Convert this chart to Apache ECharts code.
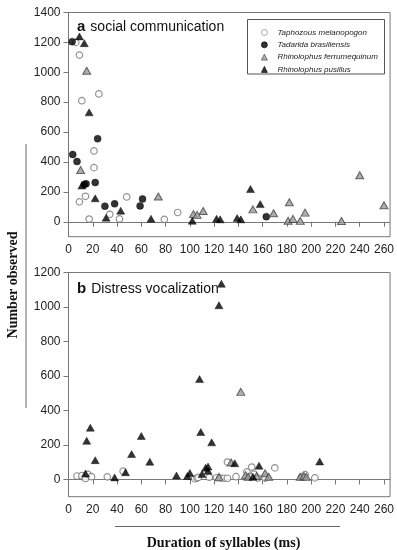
<!DOCTYPE html>
<html>
<head>
<meta charset="utf-8">
<script src="https://cdn.jsdelivr.net/npm/echarts@6/dist/echarts.min.js"></script>
<style>
  html, body { margin: 0; padding: 0; background: #fff; }
  #chart { width: 397px; height: 550px; }
</style>
</head>
<body>
<div id="chart"></div>
<script>
// Axis ticks
const xTicks = [0, 20, 40, 60, 80, 100, 120, 140, 160, 180, 200, 220, 240, 260];
const yTicksSocial = [0, 200, 400, 600, 800, 1000, 1200, 1400];
const yTicksDistress = [0, 200, 400, 600, 800, 1000, 1200];

const speciesNames = [
  'Taphozous melanopogon',
  'Tadarida brasiliensis',
  'Rhinolophus ferrumequinum',
  'Rhinolophus pusillus'
];

// (a) social communication: [duration (ms), number observed]
const socialTaphozous = [
  [6, 1200], [9, 1115], [11, 810], [25, 855], [21, 474], [21, 362], [9, 133],
  [14, 170], [17, 18], [34, 50], [42, 19], [48, 166], [79, 16], [90, 62]
];
const socialTadarida = [
  [3, 1205], [3.5, 450], [7, 403], [24, 556], [22, 262], [13, 250], [14.5, 254],
  [30, 104], [38, 120], [59, 106], [61, 153], [163, 34]
];
const socialFerrum = [
  [15, 1010], [10, 346], [74, 169], [103, 51], [106, 46], [111, 72], [152, 83],
  [169, 57], [182, 131], [181, 7], [185, 19], [191, 6], [195, 61], [225, 5],
  [240, 311], [260, 110]
];
const socialPusillus = [
  [9, 1240], [13, 1195], [17, 732], [22, 157], [11, 242], [31, 27], [43, 74],
  [68, 20], [102, 7], [122, 20], [125, 16], [139, 25], [142, 16], [150, 219],
  [158, 118]
];

// (b) distress vocalization
const distressTaphozous = [
  [7, 20], [11, 22], [14, 6], [16, 29], [19, 16], [32, 15], [45, 48], [104, 4],
  [106, 8], [107, 12], [116, 13], [122, 10], [125, 8], [128, 7], [131, 7],
  [131, 101], [138, 16], [147, 44], [151, 72], [153, 31], [150, 15], [156, 8],
  [162, 8], [170, 67], [195, 28], [192, 14], [203, 9]
];
const distressFerrum = [
  [142, 508], [134, 98], [124, 15], [146, 25], [148, 16], [155, 20], [162, 36],
  [165, 16], [191, 15], [194, 20], [196, 15]
];
const distressPusillus = [
  [18, 300], [15, 224], [22, 112], [14, 35], [38, 12], [47, 42], [52, 147],
  [60, 252], [67, 103], [89, 23], [98, 20], [100, 38], [108, 582], [109, 275],
  [118, 215], [110, 31], [113, 68], [115, 75], [115, 50], [124, 1010],
  [126, 1135], [137, 94], [157, 80], [152, 15], [207, 104]
];

const frameColor = '#777';
const labelFont = { color: '#222', fontSize: 12, fontFamily: 'Liberation Sans, Arial, sans-serif' };
const plainNumber = v => String(v);

const styles = [
  { symbol: 'circle', symbolSize: 6.5, itemStyle: { color: '#fff', borderColor: '#777', borderWidth: 1.2 } },
  { symbol: 'circle', symbolSize: 7, itemStyle: { color: '#000', borderColor: '#000', borderWidth: 0.5 } },
  { symbol: 'triangle', symbolSize: [8, 7], itemStyle: { color: '#9a9a9a', borderColor: '#444', borderWidth: 1 } },
  { symbol: 'triangle', symbolSize: [8, 7], itemStyle: { color: '#000', borderColor: '#000', borderWidth: 0.5 } }
];

function scatter(idx, data, panel) {
  return Object.assign({
    type: 'scatter',
    name: speciesNames[idx],
    data: data,
    xAxisIndex: panel,
    yAxisIndex: panel,
    emphasis: { disabled: true }
  }, styles[idx]);
}

function xAxis(gridIndex) {
  return {
    type: 'value', gridIndex: gridIndex, min: 0, max: 265,
    axisLine: { show: true, lineStyle: { color: frameColor, width: 1 } },
    axisTick: { show: true, length: 5, customValues: xTicks, lineStyle: { color: frameColor } },
    axisLabel: Object.assign({ margin: 7, customValues: xTicks, formatter: plainNumber }, labelFont),
    splitLine: { show: false }
  };
}
function yAxis(gridIndex, max, ticks) {
  return {
    type: 'value', gridIndex: gridIndex, min: -100, max: max,
    axisLine: { show: true, lineStyle: { color: frameColor, width: 1 } },
    axisTick: { show: true, length: 5, customValues: ticks, lineStyle: { color: frameColor } },
    axisLabel: Object.assign({ margin: 8, customValues: ticks, formatter: plainNumber }, labelFont),
    splitLine: { show: false }
  };
}

const titleRich = {
  b: { fontSize: 15, fontWeight: 'bold', fontFamily: 'Liberation Sans, Arial', color: '#111' },
  n: { fontSize: 14, fontWeight: 'normal', fontFamily: 'Liberation Sans, Arial', color: '#111' }
};

const chart = echarts.init(document.getElementById('chart'), null, { renderer: 'canvas' });
chart.setOption({
  animation: false,
  backgroundColor: '#fff',
  grid: [
    { left: 68.5, right: 4.7, top: 12.5, height: 224.2, show: true, borderColor: frameColor, borderWidth: 1, backgroundColor: '#fff' },
    { left: 68.5, right: 4.7, top: 272.5, height: 224.2, show: true, borderColor: frameColor, borderWidth: 1, backgroundColor: '#fff' }
  ],
  xAxis: [xAxis(0), xAxis(1)],
  yAxis: [yAxis(0, 1400, yTicksSocial), yAxis(1, 1200, yTicksDistress)],
  title: [
    { text: '{b|a} {n|social communication}', left: 72, top: 13, textStyle: { fontWeight: 'normal', rich: titleRich } },
    { text: '{b|b} {n|Distress vocalization}', left: 72, top: 275, textStyle: { fontWeight: 'normal', rich: titleRich } }
  ],
  legend: {
    data: speciesNames,
    orient: 'vertical',
    left: 261, top: 28.5,
    padding: 0,
    itemWidth: 6, itemHeight: 6, itemGap: 4.3,
    selectedMode: false,
    itemStyle: { borderWidth: 0.8 },
    textStyle: { fontSize: 8, fontStyle: 'italic', color: '#222', fontFamily: 'Liberation Sans, Arial', padding: [0, 0, 0, 5] }
  },
  graphic: [
    { type: 'rect', shape: { x: 247.5, y: 19.5, width: 137, height: 54.5 }, style: { fill: null, stroke: '#555', lineWidth: 1 }, z: 10 },
    { type: 'line', shape: { x1: 26, y1: 144, x2: 26, y2: 408 }, style: { stroke: '#666', lineWidth: 1 } },
    { type: 'line', shape: { x1: 115, y1: 526.5, x2: 340, y2: 526.5 }, style: { stroke: '#666', lineWidth: 1 } },
    {
      type: 'text', x: 13, y: 285, rotation: Math.PI / 2,
      style: { text: 'Number observed', fontSize: 14, fontWeight: 'bold', fontFamily: 'Liberation Serif, Times New Roman, serif', fill: '#111', align: 'center', verticalAlign: 'middle' }
    },
    {
      type: 'text', x: 223.5, y: 543,
      style: { text: 'Duration of syllables (ms)', fontSize: 14, fontWeight: 'bold', fontFamily: 'Liberation Serif, Times New Roman, serif', fill: '#111', align: 'center', verticalAlign: 'middle' }
    }
  ],
  series: [
    scatter(0, socialTaphozous, 0),
    scatter(1, socialTadarida, 0),
    scatter(2, socialFerrum, 0),
    scatter(3, socialPusillus, 0),
    scatter(0, distressTaphozous, 1),
    scatter(2, distressFerrum, 1),
    scatter(3, distressPusillus, 1)
  ]
});
</script>
</body>
</html>
